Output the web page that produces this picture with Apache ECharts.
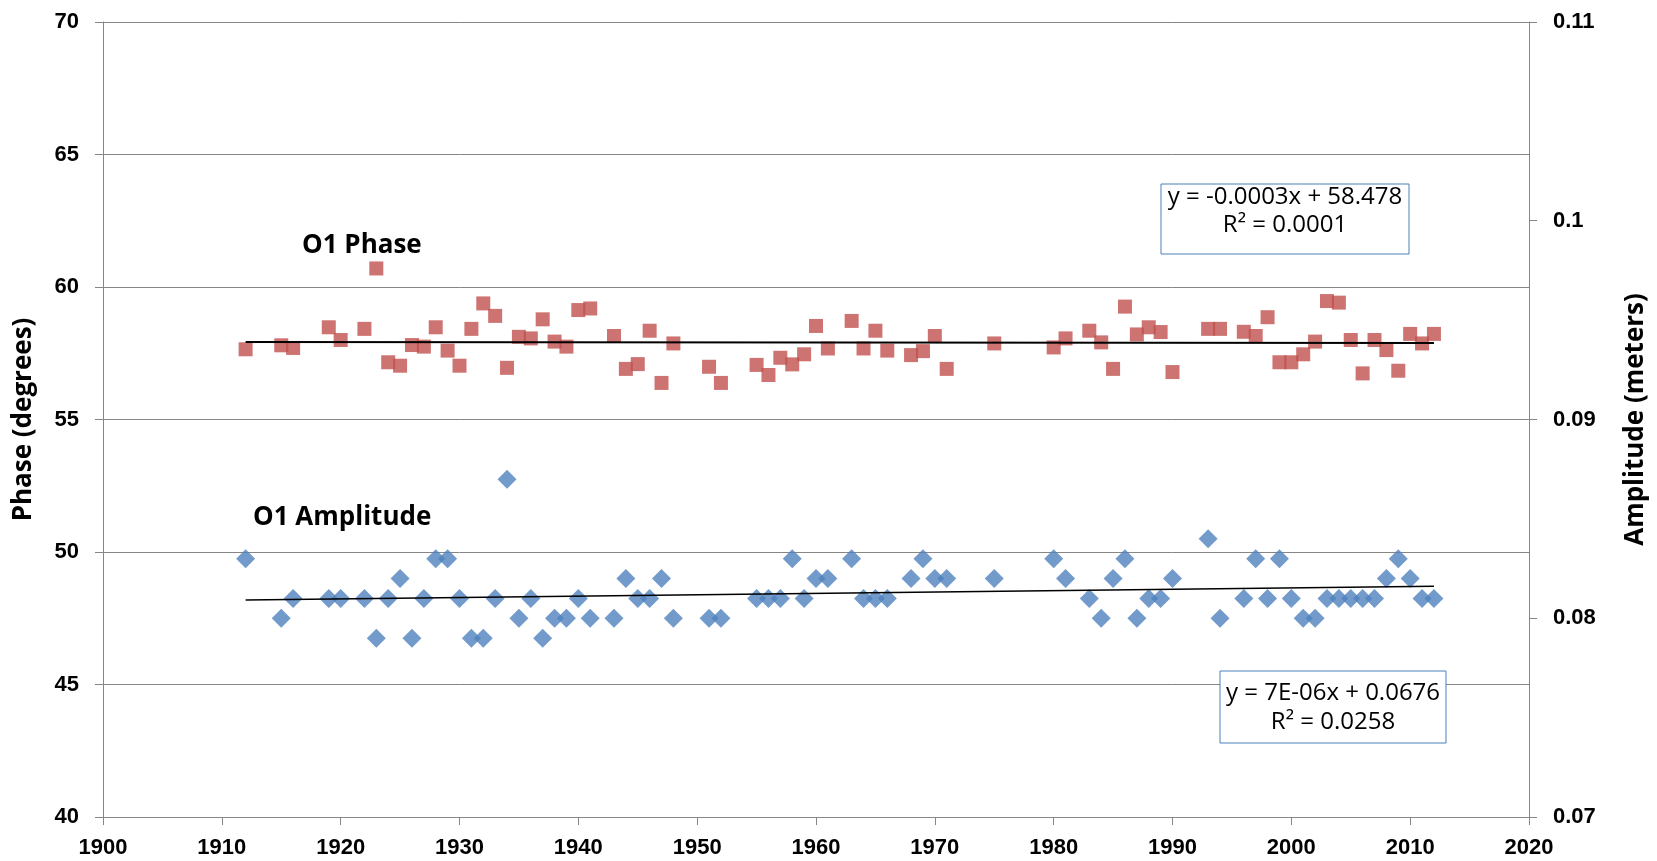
<!DOCTYPE html>
<html>
<head>
<meta charset="utf-8">
<script src="https://cdn.jsdelivr.net/npm/echarts@6/dist/echarts.min.js"></script>
<style>
html,body{margin:0;padding:0;background:#fff;}
#chart{width:1657px;height:861px;}
</style>
</head>
<body>
<div id="chart"></div>
<script>
const years = [1912,1915,1916,1919,1920,1922,1923,1924,1925,1926,1927,1928,1929,1930,1931,1932,1933,1934,1935,1936,1937,1938,1939,1940,1941,1943,1944,1945,1946,1947,1948,1951,1952,1955,1956,1957,1958,1959,1960,1961,1963,1964,1965,1966,1968,1969,1970,1971,1975,1980,1981,1983,1984,1985,1986,1987,1988,1989,1990,1993,1994,1996,1997,1998,1999,2000,2001,2002,2003,2004,2005,2006,2007,2008,2009,2010,2011,2012];

const phaseDeg = [57.65,57.8,57.7,58.48,58.0,
58.42,60.7,57.16,57.03,57.81,
57.75,58.48,57.6,57.03,58.42,
59.38,58.91,56.95,58.12,58.06,
58.78,57.94,57.75,59.13,59.19,
58.15,56.91,57.09,58.35,56.38,
57.87,56.99,56.38,57.06,56.68,
57.33,57.08,57.46,58.53,57.68,
58.72,57.68,58.35,57.6,57.43,
57.58,58.15,56.91,57.87,57.72,
58.06,58.35,57.91,56.91,59.26,
58.21,58.48,58.3,56.79,58.42,
58.42,58.31,58.15,58.86,57.16,
57.16,57.46,57.94,59.47,59.41,
58.0,56.74,58.0,57.62,56.84,
58.23,57.87,58.23];

const amplitudeM = [0.083,0.080,0.081,0.081,0.081,
0.081,0.079,0.081,0.082,0.079,
0.081,0.083,0.083,0.081,0.079,
0.079,0.081,0.087,0.080,0.081,
0.079,0.080,0.080,0.081,0.080,
0.080,0.082,0.081,0.081,0.082,
0.080,0.080,0.080,0.081,0.081,
0.081,0.083,0.081,0.082,0.082,
0.083,0.081,0.081,0.081,0.082,
0.083,0.082,0.082,0.082,0.083,
0.082,0.081,0.080,0.082,0.083,
0.080,0.081,0.081,0.082,0.084,
0.080,0.081,0.083,0.081,0.083,
0.081,0.080,0.080,0.081,0.081,
0.081,0.081,0.081,0.082,0.083,
0.082,0.081,0.081];

const phaseEquation = ["y = -0.0003x + 58.478", "R\u00B2 = 0.0001"];
const ampEquation = ["y = 7E-06x + 0.0676", "R\u00B2 = 0.0258"];

// least-squares trend lines computed from the data
function fit(xs, ys) {
  const n = xs.length;
  let sx=0, sy=0, sxx=0, sxy=0;
  for (let i=0;i<n;i++){ sx+=xs[i]; sy+=ys[i]; sxx+=xs[i]*xs[i]; sxy+=xs[i]*ys[i]; }
  const b = (n*sxy - sx*sy)/(n*sxx - sx*sx);
  const a = (sy - b*sx)/n;
  const x0 = xs[0], x1 = xs[n-1];
  return [[x0, a+b*x0],[x1, a+b*x1]];
}
const phasePts = years.map((y,i)=>[y, phaseDeg[i]]);
const ampPts = years.map((y,i)=>[y, amplitudeM[i]]);
const phaseTrend = fit(years, phaseDeg);
const ampTrend = fit(years, amplitudeM);

const gray = '#868686';
const tickFont = {fontFamily:'Liberation Sans', fontWeight:'bold', fontSize:22, color:'#000'};
const boldFont = 'bold 26px "Open Sans"';
const eqFont = '24px "Open Sans"';

const chart = echarts.init(document.getElementById('chart'), null, {renderer:'canvas'});
chart.setOption({
  backgroundColor:'#fff',
  animation:false,
  grid:{left:103,right:128,top:22,bottom:44,containLabel:false,outerBoundsMode:'none'},
  xAxis:{
    type:'value', min:1900, max:2020, interval:10,
    axisLine:{show:true,lineStyle:{color:gray,width:1}},
    axisTick:{show:true,length:8,lineStyle:{color:gray}},
    splitLine:{show:false},
    axisLabel:Object.assign({margin:20, formatter:v=>String(v)}, tickFont)
  },
  yAxis:[{
    type:'value', min:40, max:70, interval:5, position:'left',
    name:'Phase (degrees)', nameLocation:'middle', nameRotate:90, nameGap:66,
    nameTextStyle:{fontFamily:'Open Sans', fontWeight:'bold', fontSize:26, color:'#000'},
    axisLine:{show:true,lineStyle:{color:gray,width:1}},
    axisTick:{show:true,length:8,lineStyle:{color:gray}},
    splitLine:{show:true,lineStyle:{color:gray,width:1}},
    axisLabel:Object.assign({margin:24}, tickFont)
  },{
    type:'value', min:0.07, max:0.11, interval:0.01, position:'right',
    name:'Amplitude (meters)', nameLocation:'middle', nameRotate:90, nameGap:94,
    nameTextStyle:{fontFamily:'Open Sans', fontWeight:'bold', fontSize:26, color:'#000'},
    axisLine:{show:true,lineStyle:{color:gray,width:1}},
    axisTick:{show:true,length:8,lineStyle:{color:gray}},
    splitLine:{show:false},
    axisLabel:Object.assign({margin:24, formatter:v=>String(Math.round(v*100)/100)}, tickFont)
  }],
  series:[
    {name:'O1 Phase', type:'scatter', yAxisIndex:0, data:phasePts, symbol:'rect', symbolSize:14,
     itemStyle:{color:'#C0504D'}, z:2},
    {name:'O1 Amplitude', type:'scatter', yAxisIndex:1, data:ampPts, symbol:'diamond', symbolSize:19,
     itemStyle:{color:'#4F81BD'}, z:2},
    {name:'Phase trend', type:'line', yAxisIndex:0, data:phaseTrend, symbol:'none',
     lineStyle:{color:'#000',width:2}, z:3},
    {name:'Amplitude trend', type:'line', yAxisIndex:1, data:ampTrend, symbol:'none',
     lineStyle:{color:'#000',width:1.5}, z:3}
  ],
  graphic:[
    {type:'text', x:302, y:246, style:{text:'O1 Phase', font:boldFont, fill:'#000', align:'left', verticalAlign:'middle'}},
    {type:'text', x:253, y:518, style:{text:'O1 Amplitude', font:boldFont, fill:'#000', align:'left', verticalAlign:'middle'}},
    {type:'rect', shape:{x:1161,y:184,width:248,height:70}, style:{fill:'#fff',stroke:'#4a7ebb',lineWidth:1}, z:10},
    {type:'text', x:1285, y:197, style:{text:phaseEquation[0], font:eqFont, fill:'#000', align:'center', verticalAlign:'middle'}, z:11},
    {type:'text', x:1285, y:225, style:{text:phaseEquation[1], font:eqFont, fill:'#000', align:'center', verticalAlign:'middle'}, z:11},
    {type:'rect', shape:{x:1220,y:671,width:226,height:72}, style:{fill:'#fff',stroke:'#4a7ebb',lineWidth:1}, z:10},
    {type:'text', x:1333, y:693, style:{text:ampEquation[0], font:eqFont, fill:'#000', align:'center', verticalAlign:'middle'}, z:11},
    {type:'text', x:1333, y:722, style:{text:ampEquation[1], font:eqFont, fill:'#000', align:'center', verticalAlign:'middle'}, z:11}
  ]
});
</script>
</body>
</html>
